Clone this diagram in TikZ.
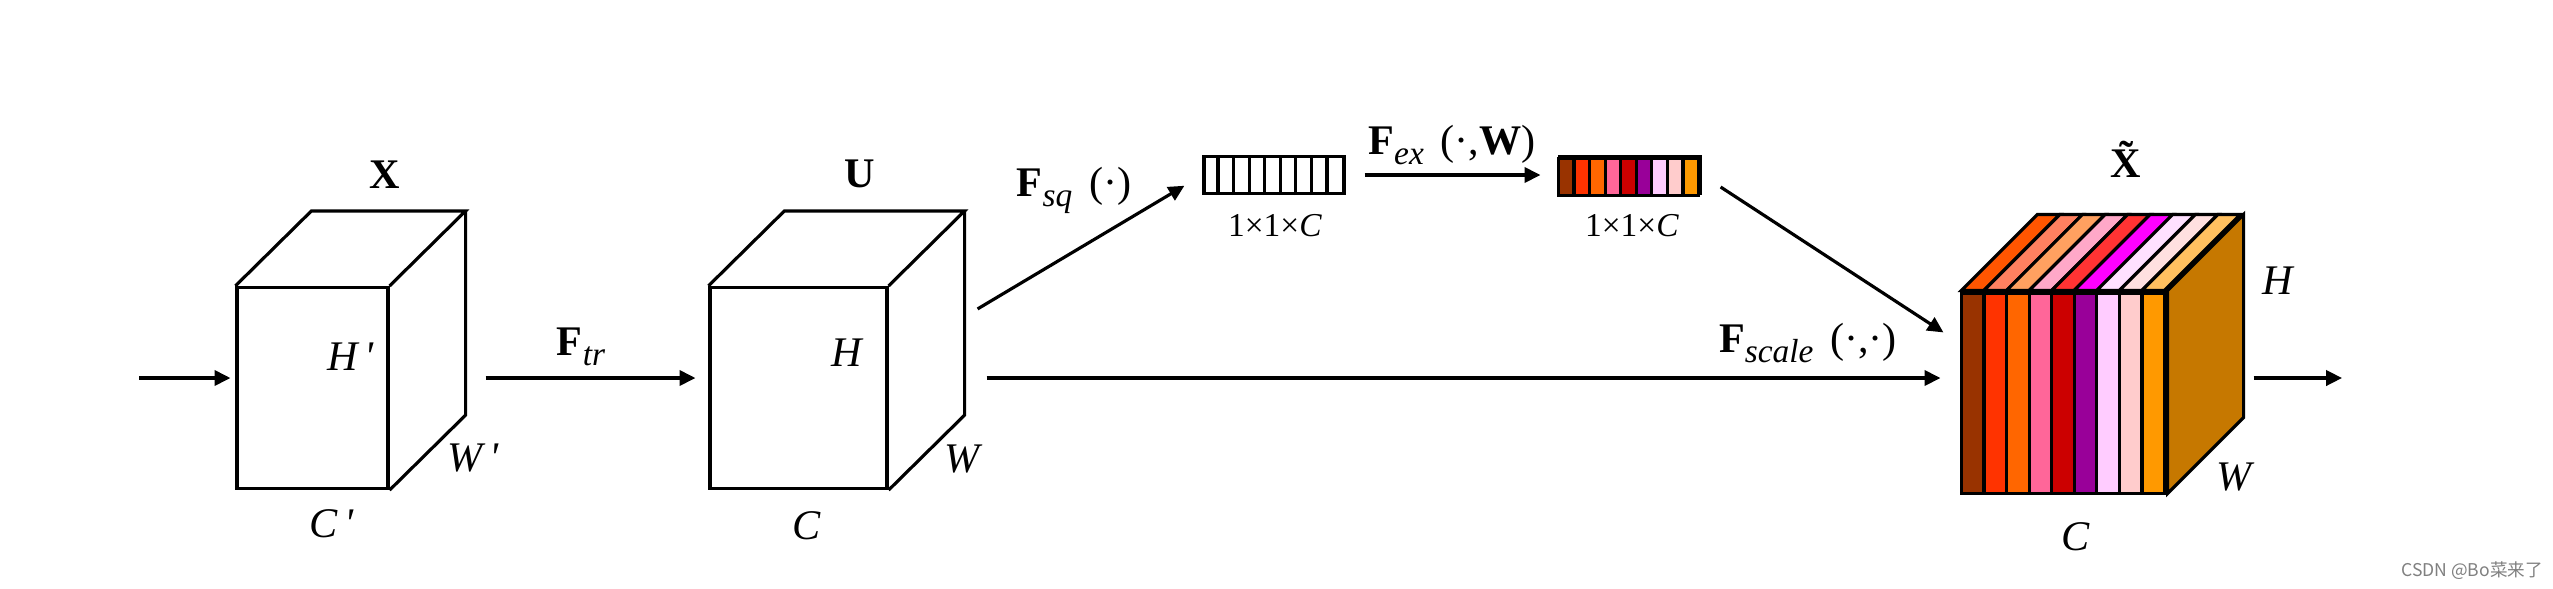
\documentclass[tikz,border=0pt]{standalone}
\usepackage{fontspec}
\setmainfont{Liberation Serif}
\newfontfamily\cjkfont{Noto Sans CJK SC}
\usetikzlibrary{arrows.meta, positioning, calc}

\definecolor{st1}{HTML}{993300}
\definecolor{st2}{HTML}{FF3300}
\definecolor{st3}{HTML}{FF6600}
\definecolor{st4}{HTML}{FF6699}
\definecolor{st5}{HTML}{CC0000}
\definecolor{st6}{HTML}{990099}
\definecolor{st7}{HTML}{FFCCFF}
\definecolor{st8}{HTML}{FFCCCC}
\definecolor{st9}{HTML}{FF9900}
\definecolor{tp1}{HTML}{FF5500}
\definecolor{tp2}{HTML}{FF8060}
\definecolor{tp3}{HTML}{FFA060}
\definecolor{tp4}{HTML}{FFA8C8}
\definecolor{tp5}{HTML}{FF3333}
\definecolor{tp6}{HTML}{FF00FF}
\definecolor{tp7}{HTML}{FFE0FF}
\definecolor{tp8}{HTML}{FFE0E0}
\definecolor{tp9}{HTML}{FFC060}
\definecolor{sideor}{HTML}{C67800}

\newcommand{\Fsub}[1]{\textbf{F}\raisebox{-3pt}{\fontsize{9.5}{10}\selectfont\itshape #1}}

\begin{document}
\begin{tikzpicture}[
  font=\fontsize{12}{14}\selectfont,
  edge/.style ={draw, line width=0.9pt},
  face/.style ={draw, line width=0.9pt, inner sep=0pt, fill=white},
  vec/.style  ={draw, line width=0.9pt, inner sep=0pt,
                minimum width=1.40cm, minimum height=0.37cm},
  arr/.style  ={line width=0.9pt, -{Triangle[length=4.5pt, width=4.3pt]}},
  small/.style={font=\fontsize{9.5}{11}\selectfont},
]
\path[use as bounding box, fill=white] (0,0) rectangle (25.53,5.88);

% =========================== CUBES ==================================
\node[face, minimum width=1.51cm, minimum height=2.01cm] (X) at (3.125, 2.00) {};
\node[face, minimum width=1.77cm, minimum height=2.01cm] (U) at (7.985, 2.00) {};
\node[face, minimum width=2.03cm, minimum height=2.00cm] (Y) at (20.645, 1.96) {};

% X : top and side faces
\draw[edge] (X.north west) -- ++(0.76,0.75) -- ($(X.north east)+(0.76,0.75)$) -- (X.north east);
\draw[edge] ($(X.north east)+(0.76,0.75)$) -- ($(X.south east)+(0.76,0.75)$) -- (X.south east);
% U : top and side faces
\draw[edge] (U.north west) -- ++(0.76,0.75) -- ($(U.north east)+(0.76,0.75)$) -- (U.north east);
\draw[edge] ($(U.north east)+(0.76,0.75)$) -- ($(U.south east)+(0.76,0.75)$) -- (U.south east);
% X tilde : coloured strips, front + top, plain side
\filldraw[edge, fill=sideor] (Y.north east) -- ++(0.76,0.76)
  -- ($(Y.south east)+(0.76,0.76)$) -- (Y.south east) -- cycle;
\foreach \c [count=\i from 0] in {tp1,tp2,tp3,tp4,tp5,tp6,tp7,tp8,tp9}
  \filldraw[edge, fill=\c] ($(Y.north west)+(\i*0.2256,0)$) -- ++(0.76,0.76)
    -- ++(0.2256,0) -- ++(-0.76,-0.76) -- cycle;
\foreach \c [count=\i from 0] in {st1,st2,st3,st4,st5,st6,st7,st8,st9}
  \filldraw[edge, fill=\c] ($(Y.south west)+(\i*0.2256,0)$) rectangle ++(0.2256,2.00);

% =========================== VECTORS ================================
\node[vec] (V1) at (12.74, 4.13) {};
\foreach \i in {1,...,8}
  \draw[edge] ($(V1.south west)+(\i*0.1556,0)$) -- ++(0,0.37);
\node[vec] (V2) at (16.30, 4.13) {};
\foreach \c [count=\i from 0] in {st1,st2,st3,st4,st5,st6,st7,st8,st9}
  \filldraw[edge, fill=\c] ($(V2.south west)+(\i*0.1556,0)$) rectangle ++(0.1556,0.37);

% =========================== LABELS =================================
\node[anchor=base] (lX)  at (3.85, 4.00) {\textbf{X}};
\node (lH1) at (3.51, 2.31) {\textit{H\,\textquotesingle}};
\node (lW1) at (4.73, 1.30) {\textit{W\,\textquotesingle}};
\node (lC1) at (3.32, 0.64) {\textit{C\,\textquotesingle}};
\node[anchor=base] (lU)  at (8.60, 4.01) {\textbf{U}};
\node (lH2) at (8.48, 2.35) {\textit{H}};
\node (lW2) at (9.64, 1.29) {\textit{W}};
\node (lC2) at (8.07, 0.62) {\textit{C}};
\node[anchor=base] (lY)  at (21.33, 4.11) {\textbf{\~{X}}};
\node (lH3) at (22.79, 3.07) {\textit{H}};
\node (lW3) at (22.36, 1.11) {\textit{W}};
\node (lC3) at (20.76, 0.51) {\textit{C}};
\node[small] (lV1) at (12.75, 3.62) {1×1×\textit{C}};
\node[small] (lV2) at (16.32, 3.62) {1×1×\textit{C}};

\node[anchor=base] (ltr) at (5.81, 2.33) {\Fsub{tr}};
\node[anchor=base] (lsq) at (10.74, 3.92) {\Fsub{sq}\hspace{0.4em}(·)};
\node[anchor=base] (lex) at (14.52, 4.34) {\Fsub{ex}\hspace{0.4em}(·,\textbf{W})};
\node[anchor=base] (lsc) at (18.08, 2.36) {\Fsub{scale}\hspace{0.4em}(·,·)};

% =========================== ARROWS =================================
\coordinate (in)  at (1.39, 2.10);
\coordinate (out) at (23.42, 2.10);
\draw[arr, shorten >=0.5mm] (in) -- (in -| X.west);
\draw[arr, shorten >=1.3mm] ($(X.east |- in)+(0.96,0)$) -- (U.west |- in);
\draw[arr, shorten >=2.1mm] ($(U.east |- in)+(0.98,0)$) -- (Y.west |- in);
\draw[arr] ($(Y.east |- in)+(0.86,0)$) -- (out);
\draw[arr, shorten >=2.1mm] ($(U.north east)+(0.89,-0.23)$) -- (V1.west);
\draw[arr, shorten <=1.9mm, shorten >=1.8mm] (V1.east) -- (V2.west);
\draw[arr] ($(V2.east)+(0.19,-0.12)$) -- ($(Y.north west)+(-0.18,-0.42)$);

% watermark
\node[font=\cjkfont\fontsize{5}{6}\selectfont, text=gray] (wm) at (24.72, 0.17) {CSDN @Bo菜来了};

\end{tikzpicture}
\end{document}
